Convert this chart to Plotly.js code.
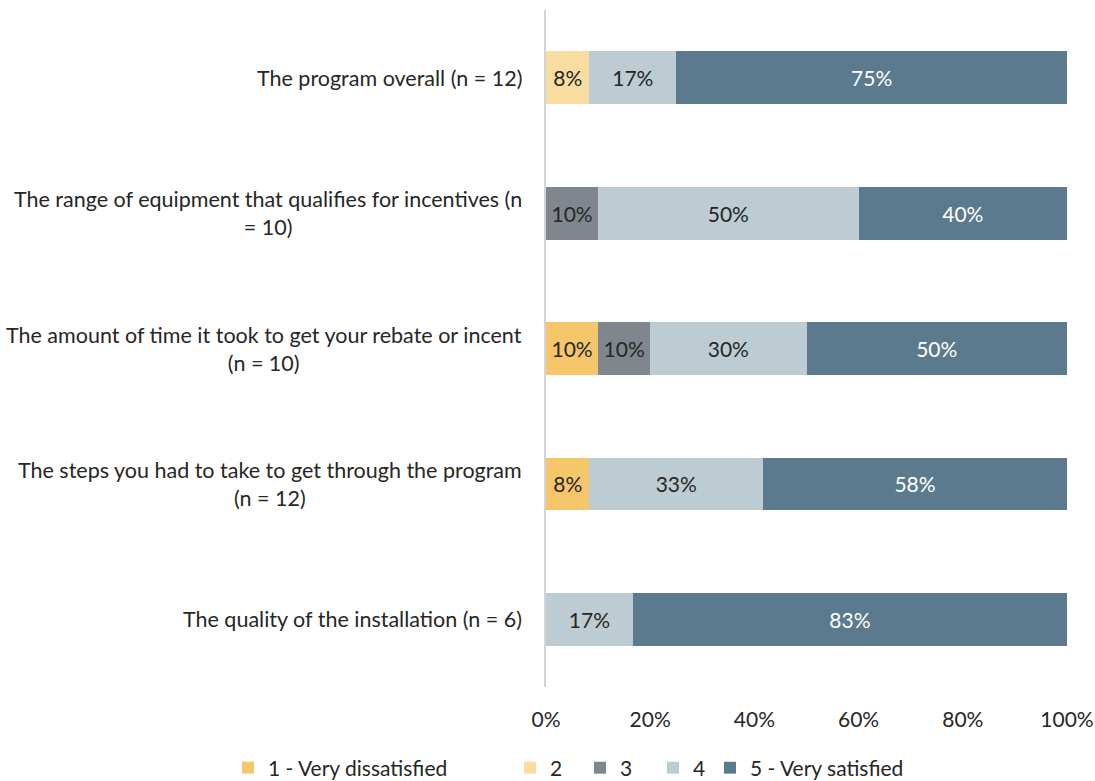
<!DOCTYPE html>
<html>
<head>
<meta charset="utf-8">
<script src="https://cdn.plot.ly/plotly-3.0.1.min.js"></script>
<style>
  html, body { margin: 0; padding: 0; background: #fff; }
  #chart { width: 1095px; height: 781px; }
</style>
</head>
<body>
<div id="chart"></div>
<script>
// categories listed top to bottom
var categories = [
    'The program overall (n = 12)',
    'The range of equipment that qualifies for incentives (n<br>= 10)',
    'The amount of time it took to get your rebate or incent<br>(n = 10)',
    'The steps you had to take to get through the program<br>(n = 12)',
    'The quality of the installation (n = 6)'
];
var seriesNames = ['1 - Very dissatisfied', '2', '3', '4', '5 - Very satisfied'];
var veryDissatisfied = [null, null, 10, 8.33, null];
var rating2 = [8.33, null, null, null, null];
var rating3 = [null, 10, 10, null, null];
var rating4 = [16.67, 50, 30, 33.33, 16.67];
var verySatisfied = [75, 40, 50, 58.33, 83.33];
var xTicks = [0, 20, 40, 60, 80, 100];
var xTickText = xTicks.map(function (v) { return v + '%'; });

var CHART_COLORS = ['#F5C76A', '#F9DDA0', '#7F868D', '#BDCCD3', '#5B7A8D'];
var TEXT_COLORS = ['#262626', '#262626', '#262626', '#262626', '#ffffff'];
var FONT = 'Lato, "Open Sans", sans-serif';
// legend entries are spread out like the original, one legend box each
var LEGEND_LEFT = [240, 522, 592, 665, 722];

var seriesValues = [veryDissatisfied, rating2, rating3, rating4, verySatisfied];
var legendIds = ['legend', 'legend2', 'legend3', 'legend4', 'legend5'];
var traces = seriesValues.map(function (vals, i) {
    return {
        type: 'bar',
        orientation: 'h',
        name: seriesNames[i],
        legend: legendIds[i],
        x: vals,
        y: categories,
        marker: { color: CHART_COLORS[i], line: { width: 0 } },
        texttemplate: '%{x:.0f}%',
        textposition: 'inside',
        insidetextanchor: 'middle',
        textangle: 0,
        constraintext: 'none',
        textfont: { family: FONT, size: 21, color: TEXT_COLORS[i] },
        hoverinfo: 'name+x'
    };
});

// category labels: centred lines, right-aligned block, like the original
var annotations = categories.map(function (c) {
    return {
        xref: 'paper', yref: 'y',
        x: 0, y: c,
        xshift: -22,
        xanchor: 'right', yanchor: 'middle',
        align: 'center',
        showarrow: false,
        text: c,
        font: { family: FONT, size: 21.5, color: '#262626' }
    };
});

var layout = {
    barmode: 'stack',
    bargap: 0.61,
    width: 1095,
    height: 781,
    margin: { l: 546, r: 28, t: 10, b: 94, autoexpand: false },
    paper_bgcolor: '#ffffff',
    plot_bgcolor: '#ffffff',
    font: { family: FONT, size: 21, color: '#262626' },
    xaxis: {
        range: [0, 100],
        tickmode: 'array',
        tickvals: xTicks,
        ticktext: xTickText,
        showgrid: false,
        zeroline: false,
        showline: false,
        ticks: 'outside',
        ticklen: 14,
        tickcolor: 'rgba(0,0,0,0)',
        tickfont: { family: FONT, size: 21, color: '#262626' },
        fixedrange: true
    },
    yaxis: {
        autorange: 'reversed',
        showticklabels: false,
        showgrid: false,
        zeroline: false,
        showline: true,
        linecolor: '#d4d4d4',
        linewidth: 2,
        ticks: '',
        fixedrange: true
    },
    showlegend: true,
    annotations: annotations
};

legendIds.forEach(function (id, i) {
    layout[id] = {
        orientation: 'h',
        xref: 'container',
        x: (LEGEND_LEFT[i] - 12) / 1095,
        xanchor: 'left',
        yref: 'container',
        y: (781 - 768) / 781,
        yanchor: 'middle',
        itemwidth: 30,
        bgcolor: 'rgba(0,0,0,0)',
        font: { family: FONT, size: 21, color: '#262626' }
    };
});

Plotly.newPlot('chart', traces, layout, { displayModeBar: false, staticPlot: true });
</script>
</body>
</html>
